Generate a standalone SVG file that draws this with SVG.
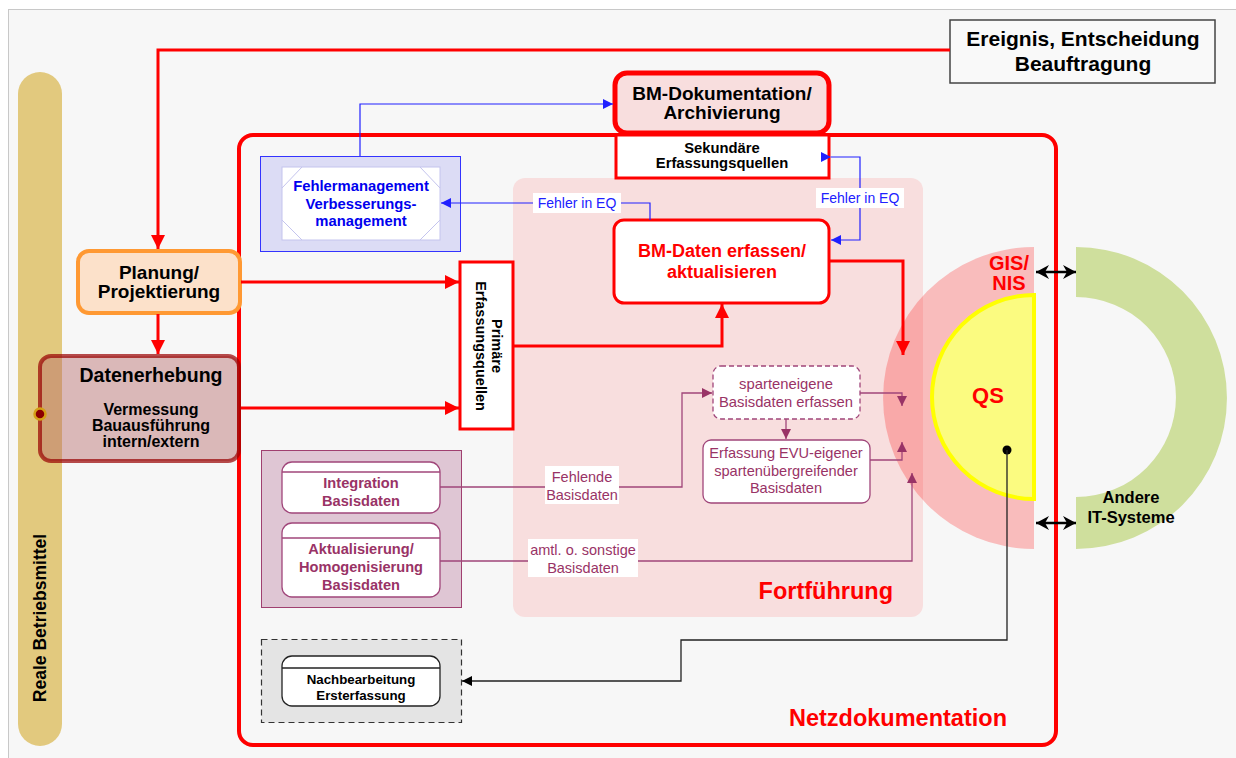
<svg xmlns="http://www.w3.org/2000/svg" width="1236" height="758" viewBox="0 0 1236 758">
<style>
text{font-family:"Liberation Sans",Arial,sans-serif;}
.b{font-weight:bold;}
.c{text-anchor:middle;}
.red{stroke:#ff0000;fill:none;stroke-width:3;}
.blue{stroke:#2020ff;fill:none;stroke-width:1.2;}
.pur{stroke:#a0467a;fill:none;stroke-width:1.3;}
.blk{stroke:#222;fill:none;stroke-width:1.3;}
.ptxt{fill:#993366;}
</style>
<defs>
<marker id="ar" markerUnits="userSpaceOnUse" markerWidth="16" markerHeight="16" refX="14" refY="7" orient="auto"><path d="M0,0 L14,7 L0,14 z" fill="#ff0000"/></marker>
<marker id="ab" markerUnits="userSpaceOnUse" markerWidth="12" markerHeight="12" refX="10" refY="5" orient="auto"><path d="M0,0 L10,5 L0,10 z" fill="#2020ff"/></marker>
<marker id="ap" markerUnits="userSpaceOnUse" markerWidth="12" markerHeight="12" refX="10" refY="5" orient="auto"><path d="M0,0 L10,5 L0,10 z" fill="#993366"/></marker>
<marker id="ak" markerUnits="userSpaceOnUse" markerWidth="12" markerHeight="12" refX="10" refY="5" orient="auto"><path d="M0,0 L10,5 L0,10 z" fill="#000"/></marker>
<marker id="akk" markerUnits="userSpaceOnUse" markerWidth="16" markerHeight="16" refX="13" refY="7" orient="auto-start-reverse"><path d="M0,0 L13,7 L0,14 L4,7 z" fill="#000"/></marker>
</defs>
<rect x="0" y="0" width="1236" height="758" fill="#ffffff"/>
<rect x="8.5" y="9.5" width="1240" height="760" fill="#f7f7f7" stroke="#c8c8c8"/>

<g id="reale-betriebsmittel">
<rect x="18" y="72" width="44" height="674" rx="22" fill="#e2c97e"/>
<text class="b c" transform="translate(40,618) rotate(-90)" y="6" font-size="17.5">Reale Betriebsmittel</text>
</g>

<g id="fortfuehrung-bereich">
<rect x="513" y="178" width="410" height="439" rx="12" fill="#f8dede"/>
<text class="b" x="893" y="599" font-size="23.5" fill="#ff0000" text-anchor="end">Fortführung</text>
</g>

<g id="gis-nis">
<path d="M1034,247 A151,151 0 0 0 1034,549 Z" fill="#ff0000" fill-opacity="0.24"/>
<text class="b c" x="1009" y="270" font-size="20" fill="#ff0000">GIS/</text>
<text class="b c" x="1009" y="290" font-size="20" fill="#ff0000">NIS</text>
</g>

<g id="qs">
<path d="M1034,295 A102,102 0 0 0 1034,499 Z" fill="#fbfb80" stroke="#ffff00" stroke-width="4"/>
<text class="b c" x="988" y="403" font-size="22" fill="#ff0000">QS</text>
</g>

<g id="andere-it-systeme">
<path d="M1076,247 A151,151 0 0 1 1076,549 L1076,497 A99,99 0 0 0 1076,297 Z" fill="#cfdf9d"/>
<text class="b c" x="1131" y="503" font-size="16.5">Andere</text>
<text class="b c" x="1131" y="523" font-size="16.5">IT-Systeme</text>
</g>

<g id="netzdokumentation">
<rect x="239" y="135" width="817" height="610" rx="14" fill="none" stroke="#ff0000" stroke-width="4"/>
<text class="b" x="1007" y="726" font-size="23.5" fill="#ff0000" text-anchor="end">Netzdokumentation</text>
</g>

<g id="ereignis">
<rect x="950" y="20" width="265" height="63" fill="#f9f9f9" stroke="#444" stroke-width="1.5"/>
<text class="b c" x="1083" y="46" font-size="21">Ereignis, Entscheidung</text>
<text class="b c" x="1083" y="71" font-size="21">Beauftragung</text>
</g>

<g id="planung">
<rect x="78" y="251" width="162" height="62" rx="11" fill="#fce1ca" stroke="#ff9933" stroke-width="4"/>
<text class="b c" x="159" y="279" font-size="19">Planung/</text>
<text class="b c" x="159" y="298" font-size="19">Projektierung</text>
</g>

<g id="datenerhebung">
<rect x="40" y="356" width="199" height="105" rx="11" fill="#b56a6a" fill-opacity="0.45" stroke="#990000" stroke-opacity="0.7" stroke-width="4"/>
<circle cx="40" cy="414" r="5.5" fill="#8b0000" stroke="#d4a017" stroke-width="2.5"/>
<text class="b c" x="151" y="382" font-size="19.5">Datenerhebung</text>
<text class="b c" x="151" y="415" font-size="16">Vermessung</text>
<text class="b c" x="151" y="431" font-size="16">Bauausführung</text>
<text class="b c" x="151" y="447" font-size="16">intern/extern</text>
</g>

<g id="bm-dokumentation">
<rect x="615" y="73" width="214" height="60" rx="12" fill="#f8dede" stroke="#ff0000" stroke-width="5"/>
<text class="b c" x="722" y="100" font-size="19">BM-Dokumentation/</text>
<text class="b c" x="722" y="119" font-size="19">Archivierung</text>
</g>

<g id="sekundaere-erfassungsquellen">
<rect x="616" y="135" width="213" height="43" fill="#ffffff" stroke="#ff0000" stroke-width="3"/>
<text class="b c" x="722" y="153" font-size="14.8">Sekundäre</text>
<text class="b c" x="722" y="168" font-size="14.8">Erfassungsquellen</text>
</g>

<g id="fehlermanagement">
<rect x="260.5" y="156.5" width="200" height="95" fill="#dcdcf5" stroke="#3333ff" stroke-width="1"/>
<rect x="282" y="167" width="158" height="73" fill="#ffffff" stroke="#c4c4ee" stroke-width="1"/>
<path d="M282,188 L302,167 M282,220 L302,240 M440,188 L420,167 M440,220 L420,240" stroke="#c4c4ee" stroke-width="1" fill="none"/>
<text class="b c" x="361" y="191" font-size="14.8" fill="#0000ee">Fehlermanagement</text>
<text class="b c" x="361" y="209" font-size="14.8" fill="#0000ee">Verbesserungs-</text>
<text class="b c" x="361" y="226" font-size="14.8" fill="#0000ee">management</text>
</g>

<g id="bm-daten">
<rect x="614" y="220" width="215" height="83" rx="10" fill="#ffffff" stroke="#ff0000" stroke-width="3"/>
<text class="b c" x="722" y="257" font-size="18" fill="#ff0000">BM-Daten erfassen/</text>
<text class="b c" x="722" y="278" font-size="18" fill="#ff0000">aktualisieren</text>
</g>

<g id="primaere-erfassungsquellen">
<rect x="460" y="262" width="53" height="167" fill="#ffffff" stroke="#ff0000" stroke-width="3"/>
<g transform="translate(487,346) rotate(90)">
<text class="b c" y="-5" font-size="14.5">Primäre</text>
<text class="b c" y="11" font-size="14.5">Erfassungsquellen</text>
</g>
</g>

<g id="basisdaten-gruppe">
<rect x="261.5" y="450.5" width="200" height="157" fill="#dfc6d4" stroke="#a04070" stroke-width="1"/>
</g>
<g id="integration-basisdaten">
<rect x="282" y="462" width="158" height="51" rx="10" fill="#ffffff" stroke="#a0467a" stroke-width="1.3"/>
<line x1="282" y1="472" x2="440" y2="472" stroke="#a0467a" stroke-width="1.3"/>
<text class="b c ptxt" x="361" y="488" font-size="14.6">Integration</text>
<text class="b c ptxt" x="361" y="506" font-size="14.6">Basisdaten</text>
</g>
<g id="aktualisierung-basisdaten">
<rect x="282" y="523" width="158" height="74" rx="10" fill="#ffffff" stroke="#a0467a" stroke-width="1.3"/>
<line x1="282" y1="538" x2="440" y2="538" stroke="#a0467a" stroke-width="1.3"/>
<text class="b c ptxt" x="361" y="554" font-size="14.6">Aktualisierung/</text>
<text class="b c ptxt" x="361" y="572" font-size="14.6">Homogenisierung</text>
<text class="b c ptxt" x="361" y="590" font-size="14.6">Basisdaten</text>
</g>

<g id="sparteneigene">
<rect x="713" y="366" width="147" height="53" rx="8" fill="#ffffff" stroke="#a0467a" stroke-width="1.3" stroke-dasharray="5,3"/>
<text class="c ptxt" x="786" y="389" font-size="14.8">sparteneigene</text>
<text class="c ptxt" x="786" y="407" font-size="14.8">Basisdaten erfassen</text>
</g>

<g id="erfassung-evu">
<rect x="703" y="440" width="167" height="63" rx="8" fill="#ffffff" stroke="#a0467a" stroke-width="1.3"/>
<text class="c ptxt" x="786" y="458" font-size="14.6">Erfassung EVU-eigener</text>
<text class="c ptxt" x="786" y="476" font-size="14.6">spartenübergreifender</text>
<text class="c ptxt" x="786" y="493" font-size="14.6">Basisdaten</text>
</g>

<g id="nachbearbeitung">
<rect x="261.5" y="639.5" width="200" height="83" fill="#e4e4e4" stroke="#333" stroke-width="1.2" stroke-dasharray="6,4"/>
<rect x="282" y="656" width="158" height="50" rx="10" fill="#ffffff" stroke="#222" stroke-width="1.3"/>
<line x1="282" y1="668" x2="440" y2="668" stroke="#222" stroke-width="1.3"/>
<text class="b c" x="361" y="684" font-size="13.3">Nachbearbeitung</text>
<text class="b c" x="361" y="700" font-size="13.3">Ersterfassung</text>
</g>

<g id="connectors">
<path class="red" d="M950,50 H158 V249" marker-end="url(#ar)"/>
<path class="red" d="M158,314 V354" marker-end="url(#ar)"/>
<path class="red" d="M241,282 H459" marker-end="url(#ar)"/>
<path class="red" d="M241,408 H459" marker-end="url(#ar)"/>
<path class="red" d="M513,346 H722 V304" marker-end="url(#ar)"/>
<path class="red" d="M829,261 H903 V355" marker-end="url(#ar)"/>

<path class="blue" d="M360,156 V104 H613" marker-end="url(#ab)"/>
<path class="blue" d="M650,220 V203 H441" marker-end="url(#ab)"/>
<rect x="533" y="193" width="88" height="20" fill="#ffffff"/>
<text class="c" x="577" y="208" font-size="14" fill="#2020ff">Fehler in EQ</text>
<path class="blue" d="M831,157 H860 V240 H831" marker-start="url(#ab)" marker-end="url(#ab)"/>
<rect x="816" y="188" width="88" height="20" fill="#ffffff"/>
<text class="c" x="860" y="203" font-size="14" fill="#2020ff">Fehler in EQ</text>

<path class="pur" d="M440,487 H682 V393 H712" marker-end="url(#ap)"/>
<rect x="545" y="466" width="74" height="38" fill="#ffffff"/>
<text class="c ptxt" x="582" y="482" font-size="14.5">Fehlende</text>
<text class="c ptxt" x="582" y="500" font-size="14.5">Basisdaten</text>
<path class="pur" d="M440,561 H912 V473" marker-end="url(#ap)"/>
<rect x="528" y="539" width="110" height="38" fill="#ffffff"/>
<text class="c ptxt" x="583" y="555" font-size="14.5">amtl. o. sonstige</text>
<text class="c ptxt" x="583" y="573" font-size="14.5">Basisdaten</text>
<path class="pur" d="M786,419 V439" marker-end="url(#ap)"/>
<path class="pur" d="M860,393 H902 V406" marker-end="url(#ap)"/>
<path class="pur" d="M870,460 H902 V442" marker-end="url(#ap)"/>

<circle cx="1007" cy="450" r="4.5" fill="#000"/>
<path class="blk" d="M1007,450 V640 H681 V681 H462" marker-end="url(#ak)"/>

<path d="M1036,272 H1076" stroke="#000" stroke-width="2.5" fill="none" marker-start="url(#akk)" marker-end="url(#akk)"/>
<path d="M1036,523 H1076" stroke="#000" stroke-width="2.5" fill="none" marker-start="url(#akk)" marker-end="url(#akk)"/>
</g>
</svg>
